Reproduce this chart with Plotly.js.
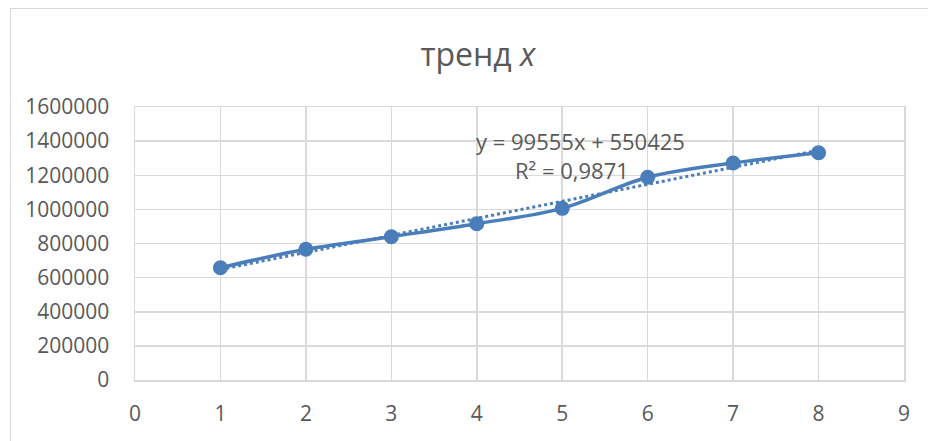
<!DOCTYPE html>
<html>
<head>
<meta charset="utf-8">
<script src="https://cdn.plot.ly/plotly-3.0.1.min.js"></script>
<style>
  html, body { margin: 0; padding: 0; background: #fff; }
  #wrap { position: relative; width: 928px; height: 441px; overflow: hidden; }
  #chart { width: 928px; height: 441px; }
  #frame { position: absolute; left: 10px; top: 8px; width: 940px; height: 460px;
           border: 1.5px solid #d9d9d9; pointer-events: none; box-sizing: border-box; }
</style>
</head>
<body>
<div id="wrap">
  <div id="chart"></div>
  <div id="frame"></div>
</div>
<script>
// Data
const xValues = [1, 2, 3, 4, 5, 6, 7, 8];
const yValues = [658000, 766000, 840000, 916000, 1006000, 1188000, 1272000, 1332000];
const xTickVals = [0, 1, 2, 3, 4, 5, 6, 7, 8, 9];
const yTickVals = [0, 200000, 400000, 600000, 800000, 1000000, 1200000, 1400000, 1600000];
const titleText = 'тренд <i>x</i>';
const equationText = 'y = 99555x + 550425';
const r2Text = 'R² = 0,9871';

// Linear least-squares trend computed from the data
const n = xValues.length;
const mx = xValues.reduce((a, b) => a + b, 0) / n;
const my = yValues.reduce((a, b) => a + b, 0) / n;
let sxy = 0, sxx = 0;
for (let i = 0; i < n; i++) { sxy += (xValues[i] - mx) * (yValues[i] - my); sxx += (xValues[i] - mx) ** 2; }
const slope = sxy / sxx;
const intercept = my - slope * mx;
const trendX = [xValues[0], xValues[n - 1]];
const trendY = trendX.map(v => intercept + slope * v);

const blue = '#4a7ebb';
const grey = '#595959';
const gridC = '#d9d9d9';

const traces = [
  { x: trendX, y: trendY, type: 'scatter', mode: 'lines',
    line: { color: blue, width: 3, dash: 'dot' }, hoverinfo: 'skip' },
  { x: xValues, y: yValues, type: 'scatter', mode: 'lines+markers',
    line: { color: blue, width: 3.5, shape: 'spline', smoothing: 1 },
    marker: { color: blue, size: 15 } }
];

const layout = {
  width: 928, height: 441,
  margin: { l: 135, r: 24, t: 107, b: 61 },
  paper_bgcolor: 'rgba(0,0,0,0)', plot_bgcolor: '#fff',
  showlegend: false,
  font: { family: 'Open Sans, sans-serif', color: grey, size: 21 },
  title: { text: titleText, xref: 'container', x: 0.515, xanchor: 'center', y: 0.875, yanchor: 'middle',
           font: { family: 'Open Sans, sans-serif', size: 32, color: grey } },
  xaxis: { range: [0, 9], tickvals: xTickVals, showgrid: true, gridcolor: gridC, gridwidth: 1.5,
           zeroline: false, showline: true, linecolor: gridC, linewidth: 1.5, mirror: true,
           ticks: '', ticklabelstandoff: 14, tickfont: { size: 21, color: grey } },
  yaxis: { range: [0, 1600000], tickvals: yTickVals, showgrid: true, gridcolor: gridC, gridwidth: 1.5,
           zeroline: false, showline: true, linecolor: gridC, linewidth: 1.5, mirror: true,
           ticks: '', ticklabelstandoff: 20, tickformat: 'd', tickfont: { size: 21, color: grey } },
  annotations: [
    { text: equationText, xref: 'x', yref: 'y', x: 5.21, y: 1398000, showarrow: false,
      font: { size: 22, color: grey }, xanchor: 'center', yanchor: 'middle' },
    { text: r2Text, xref: 'x', yref: 'y', x: 5.12, y: 1230000, showarrow: false,
      font: { size: 22, color: grey }, xanchor: 'center', yanchor: 'middle' }
  ]
};

Plotly.newPlot('chart', traces, layout, { displayModeBar: false, staticPlot: true });
</script>
</body>
</html>
